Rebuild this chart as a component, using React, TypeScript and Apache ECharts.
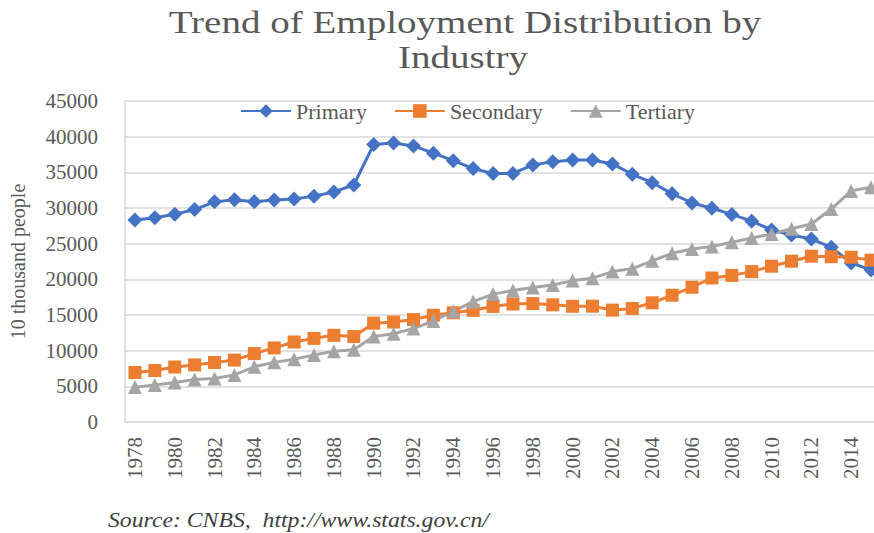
import React, { useEffect, useRef } from "react";
import * as echarts from "echarts";

// Employed persons by industry, unit: 10 thousand people
const years: string[] = [
  "1978", "1979", "1980", "1981", "1982", "1983", "1984", "1985", "1986", "1987",
  "1988", "1989", "1990", "1991", "1992", "1993", "1994", "1995", "1996", "1997",
  "1998", "1999", "2000", "2001", "2002", "2003", "2004", "2005", "2006", "2007",
  "2008", "2009", "2010", "2011", "2012", "2013", "2014", "2015",
];

const primary: number[] = [
  28318, 28634, 29122, 29777, 30859, 31151, 30868, 31130, 31254, 31663,
  32249, 33225, 38914, 39098, 38699, 37680, 36628, 35530, 34820, 34840,
  36030, 36500, 36730, 36730, 36180, 34730, 33550, 32000, 30700, 29960,
  29100, 28150, 26920, 26220, 25650, 24500, 22300, 21310,
];

const secondary: number[] = [
  6945, 7214, 7707, 8003, 8346, 8679, 9590, 10384, 11216, 11726,
  12152, 11976, 13856, 14015, 14355, 14965, 15312, 15655, 16203, 16547,
  16600, 16421, 16219, 16234, 15682, 15927, 16709, 17766, 18894, 20186,
  20553, 21080, 21842, 22544, 23241, 23170, 23099, 22693,
];

const tertiary: number[] = [
  4890, 5177, 5532, 5945, 6090, 6606, 7739, 8359, 8811, 9395,
  9933, 10129, 11979, 12378, 13098, 14163, 15515, 16880, 17927, 18432,
  18860, 19205, 19823, 20165, 21090, 21500, 22600, 23650, 24250, 24600,
  25200, 25800, 26350, 27100, 27750, 29850, 32400, 32900,
];

const seriesNames: string[] = ["Primary", "Secondary", "Tertiary"];
const titleLines: string[] = ["Trend of Employment Distribution by", "Industry"];
const yAxisName = "10 thousand people";
const sourceNote = "Source: CNBS,  http://www.stats.gov.cn/";

const SERIF = "'Liberation Serif', 'Times New Roman', serif";
const TEXT_COLOR = "#595959";
const GRID_COLOR = "#d9d9d9";

export default function App() {
  const ref = useRef<HTMLDivElement>(null);

  useEffect(() => {
    if (!ref.current) return;
    const chart = echarts.init(ref.current, undefined, { renderer: "svg" });

    const makeSeries = (
      name: string,
      data: number[],
      color: string,
      symbol: string,
      symbolSize: number
    ) => ({
      name,
      type: "line" as const,
      data,
      color,
      symbol,
      symbolSize,
      showSymbol: true,
      showAllSymbol: true,
      lineStyle: { width: 3, color },
      itemStyle: { color },
    });

    chart.setOption({
      animation: false,
      backgroundColor: "#ffffff",
      textStyle: { fontFamily: SERIF },
      graphic: [
        {
          type: "text",
          x: 465,
          y: 22,
          scaleX: 1.22,
          style: {
            text: titleLines[0],
            font: `32px ${SERIF}`,
            fill: TEXT_COLOR,
            textAlign: "center",
            textVerticalAlign: "middle",
          },
        },
        {
          type: "text",
          x: 463,
          y: 57,
          scaleX: 1.22,
          style: {
            text: titleLines[1],
            font: `32px ${SERIF}`,
            fill: TEXT_COLOR,
            textAlign: "center",
            textVerticalAlign: "middle",
          },
        },
        {
          type: "text",
          x: 108,
          y: 520,
          scaleX: 1.13,
          style: {
            text: sourceNote,
            font: `italic 21px ${SERIF}`,
            fill: "#404040",
            textAlign: "left",
            textVerticalAlign: "middle",
          },
        },
      ],
      legend: {
        data: seriesNames,
        left: 240,
        top: 100,
        padding: 0,
        itemWidth: 50,
        itemHeight: 17,
        itemGap: 27,
        textStyle: { fontFamily: SERIF, fontSize: 22, color: TEXT_COLOR },
      },
      grid: {
        left: 115,
        top: 101,
        width: 766,
        height: 321,
        containLabel: false,
      },
      xAxis: {
        type: "category",
        data: years,
        boundaryGap: true,
        axisLine: { show: true, lineStyle: { color: GRID_COLOR, width: 1.5 } },
        axisTick: { show: false },
        axisLabel: {
          interval: 1,
          rotate: 90,
          margin: 15,
          fontFamily: SERIF,
          fontSize: 21,
          color: TEXT_COLOR,
        },
      },
      yAxis: {
        type: "value",
        min: 0,
        max: 45000,
        interval: 5000,
        name: yAxisName,
        nameLocation: "middle",
        nameRotate: 90,
        nameGap: 97,
        nameTextStyle: { fontFamily: SERIF, fontSize: 20, color: TEXT_COLOR },
        axisLine: { show: true, lineStyle: { color: GRID_COLOR, width: 1.5 } },
        axisTick: { show: false },
        axisLabel: {
          margin: 27,
          fontFamily: SERIF,
          fontSize: 21,
          color: TEXT_COLOR,
          formatter: (v: number) => String(v),
        },
        splitLine: { show: true, lineStyle: { color: GRID_COLOR, width: 1.5 } },
      },
      series: [
        makeSeries(seriesNames[0], primary, "#4472C4", "diamond", 15),
        makeSeries(seriesNames[1], secondary, "#ED7D31", "rect", 13),
        makeSeries(seriesNames[2], tertiary, "#A5A5A5", "triangle", 14),
      ],
    });

    return () => chart.dispose();
  }, []);

  return (
    <div
      style={{
        position: "fixed",
        left: 0,
        top: 0,
        width: 874,
        height: 533,
        overflow: "hidden",
        background: "#ffffff",
      }}
    >
      <div ref={ref} style={{ width: 884, height: 533 }} />
    </div>
  );
}
